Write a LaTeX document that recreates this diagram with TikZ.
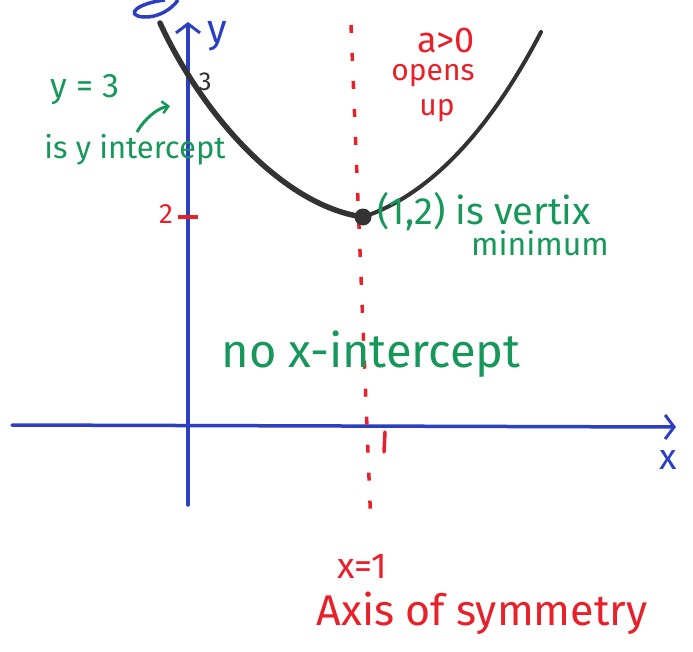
\documentclass[tikz,border=0pt]{standalone}
\usepackage{fontspec}
\setmainfont{Fira Sans}
\usetikzlibrary{arrows.meta}
\definecolor{axblue}{HTML}{2B3FC0}
\definecolor{pred}{HTML}{E8202A}
\definecolor{pgreen}{HTML}{17975A}
\definecolor{curve}{HTML}{333333}
\newcommand{\fsz}[1]{\fontsize{#1}{#1}\selectfont}
\tikzset{
  axis/.style={draw=axblue, line width=3.5pt, line cap=round},
  axtip/.style={-{Straight Barb[length=9pt,width=24pt,line width=3pt]}},
  redtxt/.style={text=pred, inner sep=0pt},
  greentxt/.style={text=pgreen, inner sep=0pt},
  bluetxt/.style={text=axblue, inner sep=0pt},
  symline/.style={draw=pred, line width=3.5pt, dash pattern=on 8pt off 20pt},
}
\begin{document}
\begin{tikzpicture}[x=1pt,y=-1pt]
\useasboundingbox (0,0) rectangle (693,651);
% coordinates
\coordinate (yb) at (188,505);
\coordinate (yt) at (188,22);
\coordinate (xl) at (12,425);
\coordinate (xr) at (676,427);
\coordinate (st) at (351,25);
\coordinate (sb) at (371,528);
% blue curl at top
\draw[axblue, line width=3.5pt] (165,0) .. controls (138,3) and (124,15) .. (143,17) .. controls (158,18) and (172,9) .. (178,0);
% axes
\draw[axis, axtip] (yb) -- (yt);
\draw[axis, axtip] (xl) -- (xr);
\node[bluetxt, font=\fsz{40}] (ylab) at (217,36) {y};
\node[bluetxt, font=\fsz{36}] (xlab) at (668,460) {x};
% axis of symmetry
\draw[symline] (st) -- (sb);
% ticks
\draw[pred, line width=3.5pt] (178,217) -- (198,217);
\node[redtxt, font=\fsz{28}] (two) at (166,214) {2};
\node[text=curve, inner sep=0pt, font=\fsz{26}] (three) at (205,82) {3};
\draw[pred, line width=3.5pt, line cap=round] (385,432) -- (384,452);
% parabola
\coordinate (pl) at (160,23);
\coordinate (vx) at (363,217);
\coordinate (pr) at (541,32);
\draw[curve, line width=5.5pt, line cap=round] (pl) .. controls (200,110) and (280,205) .. (vx);
\draw[curve, line width=4pt, line cap=round] (vx) .. controls (430,195) and (490,130) .. (pr);
\node[circle, fill=curve, minimum size=17pt, inner sep=0pt] (vtx) at (vx) {};
% labels
\node[redtxt, font=\fsz{36}] (agt) at (446,40) {a>0};
\node[redtxt, font=\fsz{30}] (opens) at (433,76) {opens};
\node[redtxt, font=\fsz{30}] (up) at (437,111) {up};
\node[greentxt, font=\fsz{34}] (y3) at (85,90) {y = 3};
\node[greentxt, font=\fsz{31}] (yint) at (135,150) {is y intercept};
\coordinate (arrs) at (137,132);
\coordinate (arre) at (170,106);
\draw[pgreen, line width=3pt, -{Straight Barb[length=6pt,width=12pt,line width=2.5pt]}] (arrs) .. controls (145,118) and (158,108) .. (arre);
\node[greentxt, font=\fsz{38}, anchor=west] (vert) at (377,212) {(1,2) is vertix};
\node[greentxt, font=\fsz{32}] (minm) at (540,243) {minimum};
\node[greentxt, font=\fsz{47}] (nox) at (371,354) {no x-intercept};
\node[redtxt, font=\fsz{36}] (x1) at (362,566) {x=1};
\node[redtxt, font=\fsz{43}] (axsym) at (482,613) {Axis of symmetry};
\end{tikzpicture}
\end{document}
